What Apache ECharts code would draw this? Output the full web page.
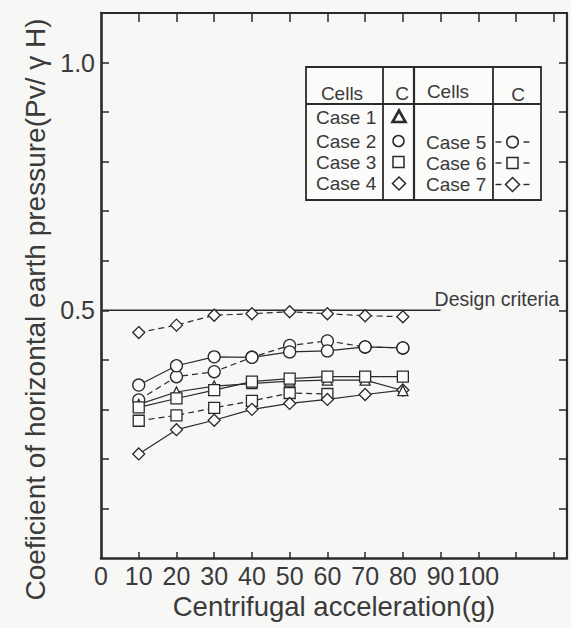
<!DOCTYPE html>
<html>
<head>
<meta charset="utf-8">
<script src="https://cdn.jsdelivr.net/npm/echarts@6/dist/echarts.min.js"></script>
<style>
  html, body { margin: 0; padding: 0; background: #f7f7f5; }
  #chart { width: 571px; height: 628px; }
</style>
</head>
<body>
<div id="chart"></div>
<script>
// Centrifugal acceleration (g) at which each cell was read
const accel = [10, 20, 30, 40, 50, 60, 70, 80];
const accelCase6 = [10, 20, 30, 40, 50, 60];

// Coefficient of horizontal earth pressure Pv/(γH) per case
const case1 = [0.310, 0.335, 0.347, 0.352, 0.357, 0.359, 0.359, 0.338];
const case2 = [0.349, 0.388, 0.406, 0.405, 0.416, 0.418, 0.426, 0.424];
const case3 = [0.304, 0.322, 0.339, 0.356, 0.362, 0.366, 0.366, 0.366];
const case4 = [0.210, 0.259, 0.278, 0.300, 0.312, 0.320, 0.330, 0.339];
const case5 = [0.319, 0.366, 0.376, 0.405, 0.429, 0.438, 0.426, 0.424];
const case6 = [0.277, 0.288, 0.303, 0.317, 0.333, 0.331];
const case7 = [0.455, 0.470, 0.490, 0.493, 0.497, 0.493, 0.489, 0.487];

// Design criteria line
const designX = [0, 90];
const designY = [0.5, 0.5];

// Axis ticks and labels
const xTickValues = [10, 20, 30, 40, 50, 60, 70, 80, 90, 100, 110, 120];
const xLabelValues = [0, 10, 20, 30, 40, 50, 60, 70, 80, 90, 100];
const yTickValues = [0.1, 0.2, 0.3, 0.4, 0.5, 0.6, 0.7, 0.8, 0.9, 1.0];
const yLabelValues = [0.5, 1.0];

const INK = '#2a2a2a';
const TEXT = '#3a3a3a';
const FONT = '"Liberation Sans", Arial, sans-serif';

function pairs(xs, ys) { return xs.map((x, i) => [x, ys[i]]); }

function caseSeries(name, xs, ys, symbol, size, dashed) {
  return {
    name: name,
    type: 'line',
    data: pairs(xs, ys),
    symbol: symbol,
    symbolSize: size,
    showAllSymbol: true,
    lineStyle: { color: INK, width: 1.2, type: dashed ? [6, 4] : 'solid' },
    itemStyle: { color: '#fbfbfa', borderColor: INK, borderWidth: 1.3 },
    emphasis: { disabled: true }
  };
}

const chart = echarts.init(document.getElementById('chart'), null, { renderer: 'svg' });

// Legend table drawn as a small boxed grid
const tL = 306, tR = 541, tT = 67, tB = 200, hY = 104;
const c1 = 383, c2 = 414, c3 = 493;
const tableStroke = { stroke: INK, lineWidth: 1.8 };
const tFont = '19px ' + FONT;
function tText(x, y, s, align) {
  return { type: 'text', x: x, y: y, style: { text: s, font: tFont, fill: TEXT, align: align || 'left', verticalAlign: 'middle' } };
}
function hLine(x1, x2, y, w) { return { type: 'line', shape: { x1: x1, y1: y, x2: x2, y2: y }, style: { stroke: INK, lineWidth: w || 1.4 } }; }
function dashPair(cx, y) {
  return [hLine(cx - 17, cx - 11, y, 1.4), hLine(cx + 11, cx + 17, y, 1.4)];
}
const symStyle = { stroke: INK, lineWidth: 1.5, fill: 'none' };

const tableEls = [
  { type: 'rect', shape: { x: tL, y: tT, width: tR - tL, height: tB - tT }, style: Object.assign({ fill: '#fbfbfa' }, tableStroke) },
  { type: 'line', shape: { x1: tL, y1: hY, x2: tR, y2: hY }, style: tableStroke },
  { type: 'line', shape: { x1: c1, y1: tT, x2: c1, y2: tB }, style: tableStroke },
  { type: 'line', shape: { x1: c2, y1: tT, x2: c2, y2: tB }, style: { stroke: INK, lineWidth: 2.2 } },
  { type: 'line', shape: { x1: c3, y1: tT, x2: c3, y2: tB }, style: tableStroke },
  tText(342, 93, 'Cells', 'center'),
  tText(402, 93, 'C', 'center'),
  tText(448, 91, 'Cells', 'center'),
  tText(518, 94, 'C', 'center'),
  tText(316, 117, 'Case 1'),
  tText(316, 141, 'Case 2'),
  tText(316, 162, 'Case 3'),
  tText(316, 183, 'Case 4'),
  tText(426, 142, 'Case 5'),
  tText(426, 163, 'Case 6'),
  tText(426, 184, 'Case 7'),
  { type: 'polygon', shape: { points: [[399, 110.5], [405.5, 122], [392.5, 122]] }, style: { stroke: INK, lineWidth: 2.6, fill: 'none', lineJoin: 'miter' } },
  { type: 'circle', shape: { cx: 398.5, cy: 141, r: 5.5 }, style: symStyle },
  { type: 'rect', shape: { x: 393, y: 156.5, width: 11, height: 11 }, style: symStyle },
  { type: 'polygon', shape: { points: [[399, 177], [405.5, 183.5], [399, 190], [392.5, 183.5]] }, style: symStyle },
  { type: 'circle', shape: { cx: 512.5, cy: 142, r: 5.8 }, style: symStyle },
  { type: 'rect', shape: { x: 507, y: 157.5, width: 11, height: 11 }, style: symStyle },
  { type: 'polygon', shape: { points: [[512.5, 177.5], [519.5, 184.5], [512.5, 191.5], [505.5, 184.5]] }, style: symStyle }
].concat(dashPair(512.5, 142), dashPair(512.5, 163), dashPair(512.5, 184.5));

const option = {
  backgroundColor: '#f7f7f5',
  animation: false,
  textStyle: { fontFamily: FONT },
  grid: { left: 101, right: 4, top: 13, bottom: 70, containLabel: false },
  xAxis: [
    {
      type: 'value', min: 0, max: 123.5, position: 'bottom',
      name: 'Centrifugal acceleration(g)', nameLocation: 'middle', nameGap: 31,
      nameTextStyle: { fontSize: 27.5, color: TEXT, fontFamily: FONT },
      axisLine: { show: true, onZero: false, lineStyle: { color: INK, width: 2.6 } },
      axisTick: { show: true, inside: true, length: 6, customValues: xTickValues, lineStyle: { color: INK, width: 1.5 } },
      axisLabel: { show: true, customValues: xLabelValues, fontSize: 25, color: TEXT, margin: 5, fontFamily: FONT },
      splitLine: { show: false }
    },
    {
      type: 'value', min: 0, max: 123.5, position: 'top',
      axisLine: { show: true, onZero: false, lineStyle: { color: INK, width: 2.2 } },
      axisTick: { show: true, inside: true, length: 9, customValues: xTickValues, lineStyle: { color: INK, width: 1.5 } },
      axisLabel: { show: false },
      splitLine: { show: false }
    }
  ],
  yAxis: [
    {
      type: 'value', min: 0, max: 1.1, position: 'left',
      name: 'Coeficient of horizontal earth pressure(Pv/ \u03b3 H)', nameLocation: 'middle', nameGap: 52, nameRotate: 90,
      nameTextStyle: { fontSize: 28, color: TEXT, fontFamily: FONT, padding: [0, 48, 0, 0] },
      axisLine: { show: true, onZero: false, lineStyle: { color: INK, width: 2.6 } },
      axisTick: { show: true, inside: true, length: 8, customValues: yTickValues, lineStyle: { color: INK, width: 1.5 } },
      axisLabel: { show: true, customValues: yLabelValues, fontSize: 25, color: TEXT, margin: 6, fontFamily: FONT,
        formatter: v => v.toFixed(1) },
      splitLine: { show: false }
    },
    {
      type: 'value', min: 0, max: 1.1, position: 'right',
      axisLine: { show: true, onZero: false, lineStyle: { color: INK, width: 2.2 } },
      axisTick: { show: true, inside: true, length: 8, customValues: yTickValues, lineStyle: { color: INK, width: 1.5 } },
      axisLabel: { show: false },
      splitLine: { show: false }
    }
  ],
  series: [
    {
      name: 'Design criteria',
      type: 'line',
      data: pairs(designX, designY),
      symbol: 'none',
      lineStyle: { color: INK, width: 1.3 },
      endLabel: { show: true, formatter: 'Design criteria', fontSize: 19.5, color: TEXT, fontFamily: FONT, distance: 0, offset: [-6, -11] },
      emphasis: { disabled: true }
    },
    caseSeries('Case 6', accelCase6, case6, 'rect', 11, true),
    caseSeries('Case 5', accel, case5, 'circle', 12, true),
    caseSeries('Case 7', accel, case7, 'diamond', 12, true),
    caseSeries('Case 4', accel, case4, 'diamond', 12, false),
    caseSeries('Case 1', accel, case1, 'triangle', 10, false),
    caseSeries('Case 3', accel, case3, 'rect', 11, false),
    caseSeries('Case 2', accel, case2, 'circle', 12, false)
  ],
  graphic: { elements: tableEls }
};

chart.setOption(option);
</script>
</body>
</html>
